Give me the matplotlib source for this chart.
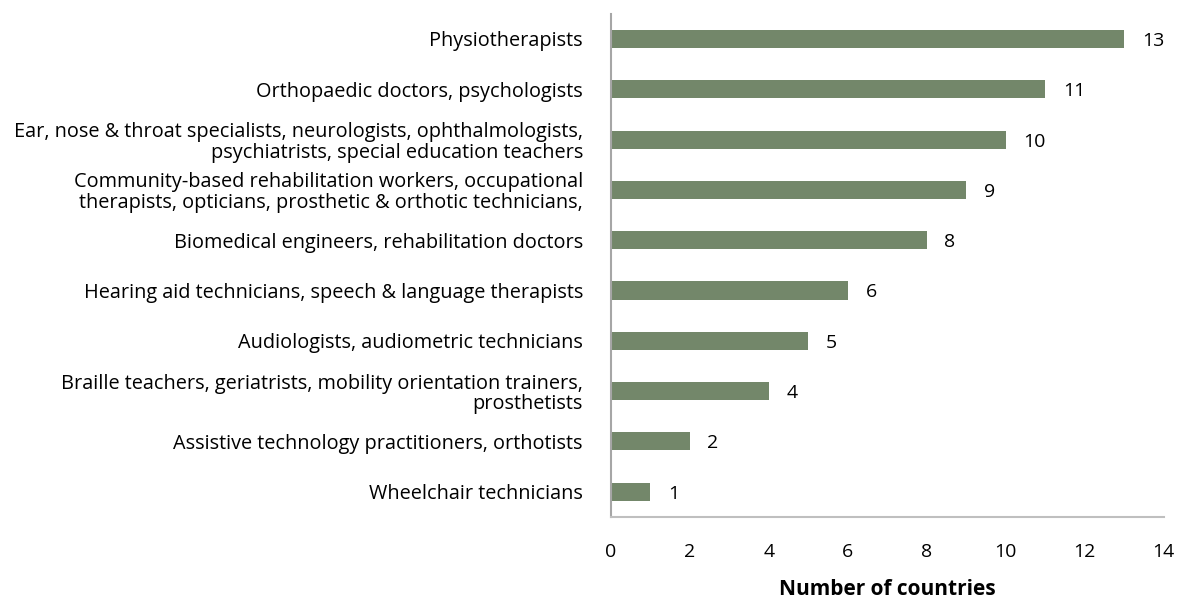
import matplotlib.pyplot as plt

# data (top to bottom as in the chart)
categories = [
    "Physiotherapists",
    "Orthopaedic doctors, psychologists",
    "Ear, nose & throat specialists, neurologists, ophthalmologists,\npsychiatrists, special education teachers",
    "Community-based rehabilitation workers, occupational\ntherapists, opticians, prosthetic & orthotic technicians,",
    "Biomedical engineers, rehabilitation doctors",
    "Hearing aid technicians, speech & language therapists",
    "Audiologists, audiometric technicians",
    "Braille teachers, geriatrists, mobility orientation trainers,\nprosthetists",
    "Assistive technology practitioners, orthotists",
    "Wheelchair technicians",
]
values = [13, 11, 10, 9, 8, 6, 5, 4, 2, 1]
xticks = [0, 2, 4, 6, 8, 10, 12, 14]

plt.rcParams['font.family'] = ['Open Sans', 'DejaVu Sans']

fig = plt.figure(figsize=(11.79, 6.01), dpi=100)
ax = fig.add_axes([0.518, 0.140, 0.469, 0.837])

pos = list(range(len(categories)))[::-1]
ax.barh(pos, values, height=0.36, color="#73876a")

for p, v in zip(pos, values):
    ax.text(v + 0.45, p, str(v), va="center_baseline", ha="left", fontsize=14)

ax.set_ylim(-0.5, len(categories) - 0.5)
ax.set_xlim(0, 14)
ax.set_yticks(pos)
ax.set_yticklabels(categories, fontsize=14.3, linespacing=1.05)
ax.set_xticks(xticks)
ax.set_xticklabels([str(t) for t in xticks], fontsize=14)
ax.tick_params(axis="both", length=0)
ax.tick_params(axis="x", pad=18.5)
ax.tick_params(axis="y", pad=20)

for s in ["top", "right"]:
    ax.spines[s].set_visible(False)
ax.spines["left"].set_color("#a6a6a6")
ax.spines["left"].set_linewidth(1.5)
ax.spines["bottom"].set_color("#bfbfbf")
ax.spines["bottom"].set_linewidth(1.5)

ax.set_xlabel("Number of countries", fontsize=15, fontweight="bold", labelpad=13)

fig.savefig("out.png", dpi=100)
